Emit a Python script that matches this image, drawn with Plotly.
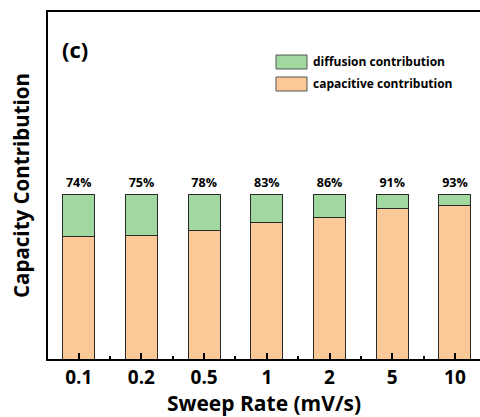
import plotly.graph_objects as go

rates = ["0.1", "0.2", "0.5", "1", "2", "5", "10"]
capacitive = [74, 75, 78, 83, 86, 91, 93]
diffusion = [100 - c for c in capacitive]
labels = [f"{c}%" for c in capacitive]
legend_names = ["diffusion contribution", "capacitive contribution"]

FONT = "Open Sans"
GREEN = "#a0d8a0"
ORANGE = "#fbc898"
EDGE = "#2a2a2a"
xs = list(range(len(rates)))

fig = go.Figure()
fig.add_trace(go.Bar(
    x=xs, y=capacitive, name=legend_names[1],
    marker=dict(color=ORANGE, line=dict(color=EDGE, width=1)),
    width=0.51, showlegend=False,
))
fig.add_trace(go.Bar(
    x=xs, y=diffusion, name=legend_names[0],
    marker=dict(color=GREEN, line=dict(color=EDGE, width=1)),
    width=0.51, showlegend=False,
    text=labels, textposition="outside", cliponaxis=False,
    textfont=dict(family=FONT, size=12.5, color="black", weight="bold"),
))

# legend drawn as swatches + text (paper coords)
W, H = 480, 417
ml, mr, mt, mb = 48, 0, 12, 58
pw, ph = W - ml - mr, H - mt - mb
def px(x):
    return (x - ml) / pw
def py(y):
    return 1 - (y - mt) / ph

shapes = []
annotations = []
for i, (name, col) in enumerate(zip(legend_names, [GREEN, ORANGE])):
    y0 = 55 + i * 22
    shapes.append(dict(type="rect", xref="paper", yref="paper",
                       x0=px(276), x1=px(307), y0=py(y0 + 14), y1=py(y0),
                       fillcolor=col, line=dict(color="#555555", width=1)))
    annotations.append(dict(text=name, xref="paper", yref="paper",
                            x=px(311), y=py(y0 + 7), xanchor="left", yanchor="middle",
                            showarrow=False,
                            font=dict(family=FONT, size=12, color="black", weight="bold")))
annotations.append(dict(
    text="(c)", x=px(60), y=py(49), xref="paper", yref="paper",
    xanchor="left", yanchor="middle", showarrow=False,
    font=dict(family=FONT, size=22, color="black", weight="bold"),
))

fig.update_layout(
    width=W, height=H,
    margin=dict(l=ml, r=mr, t=mt, b=mb),
    barmode="stack",
    plot_bgcolor="white", paper_bgcolor="white",
    showlegend=False,
    font=dict(family=FONT, color="black"),
    shapes=shapes,
    annotations=annotations,
)

fig.update_xaxes(
    range=[-0.49, 6.4],
    tickmode="array", tickvals=xs, ticktext=rates,
    ticks="inside", ticklen=6, tickwidth=1.5, tickcolor="black",
    minor=dict(tickmode="array", tickvals=[i + 0.5 for i in range(-1, 7)],
               ticks="inside", ticklen=3, tickwidth=1.5, tickcolor="black"),
    tickfont=dict(family=FONT, size=19, color="black", weight="bold"),
    showline=True, linecolor="black", linewidth=2, mirror=True,
    showgrid=False, zeroline=False,
    title=dict(text="Sweep Rate (mV/s)", standoff=0,
               font=dict(family=FONT, size=21, color="black", weight="bold")),
)
fig.update_yaxes(
    range=[0, 210.3],
    showticklabels=False, ticks="",
    showline=True, linecolor="black", linewidth=2, mirror=False,
    showgrid=False, zeroline=False,
    title=dict(text="Capacity Contribution", standoff=11,
               font=dict(family=FONT, size=20.5, color="black", weight="bold")),
)

fig.write_html("out.html")
